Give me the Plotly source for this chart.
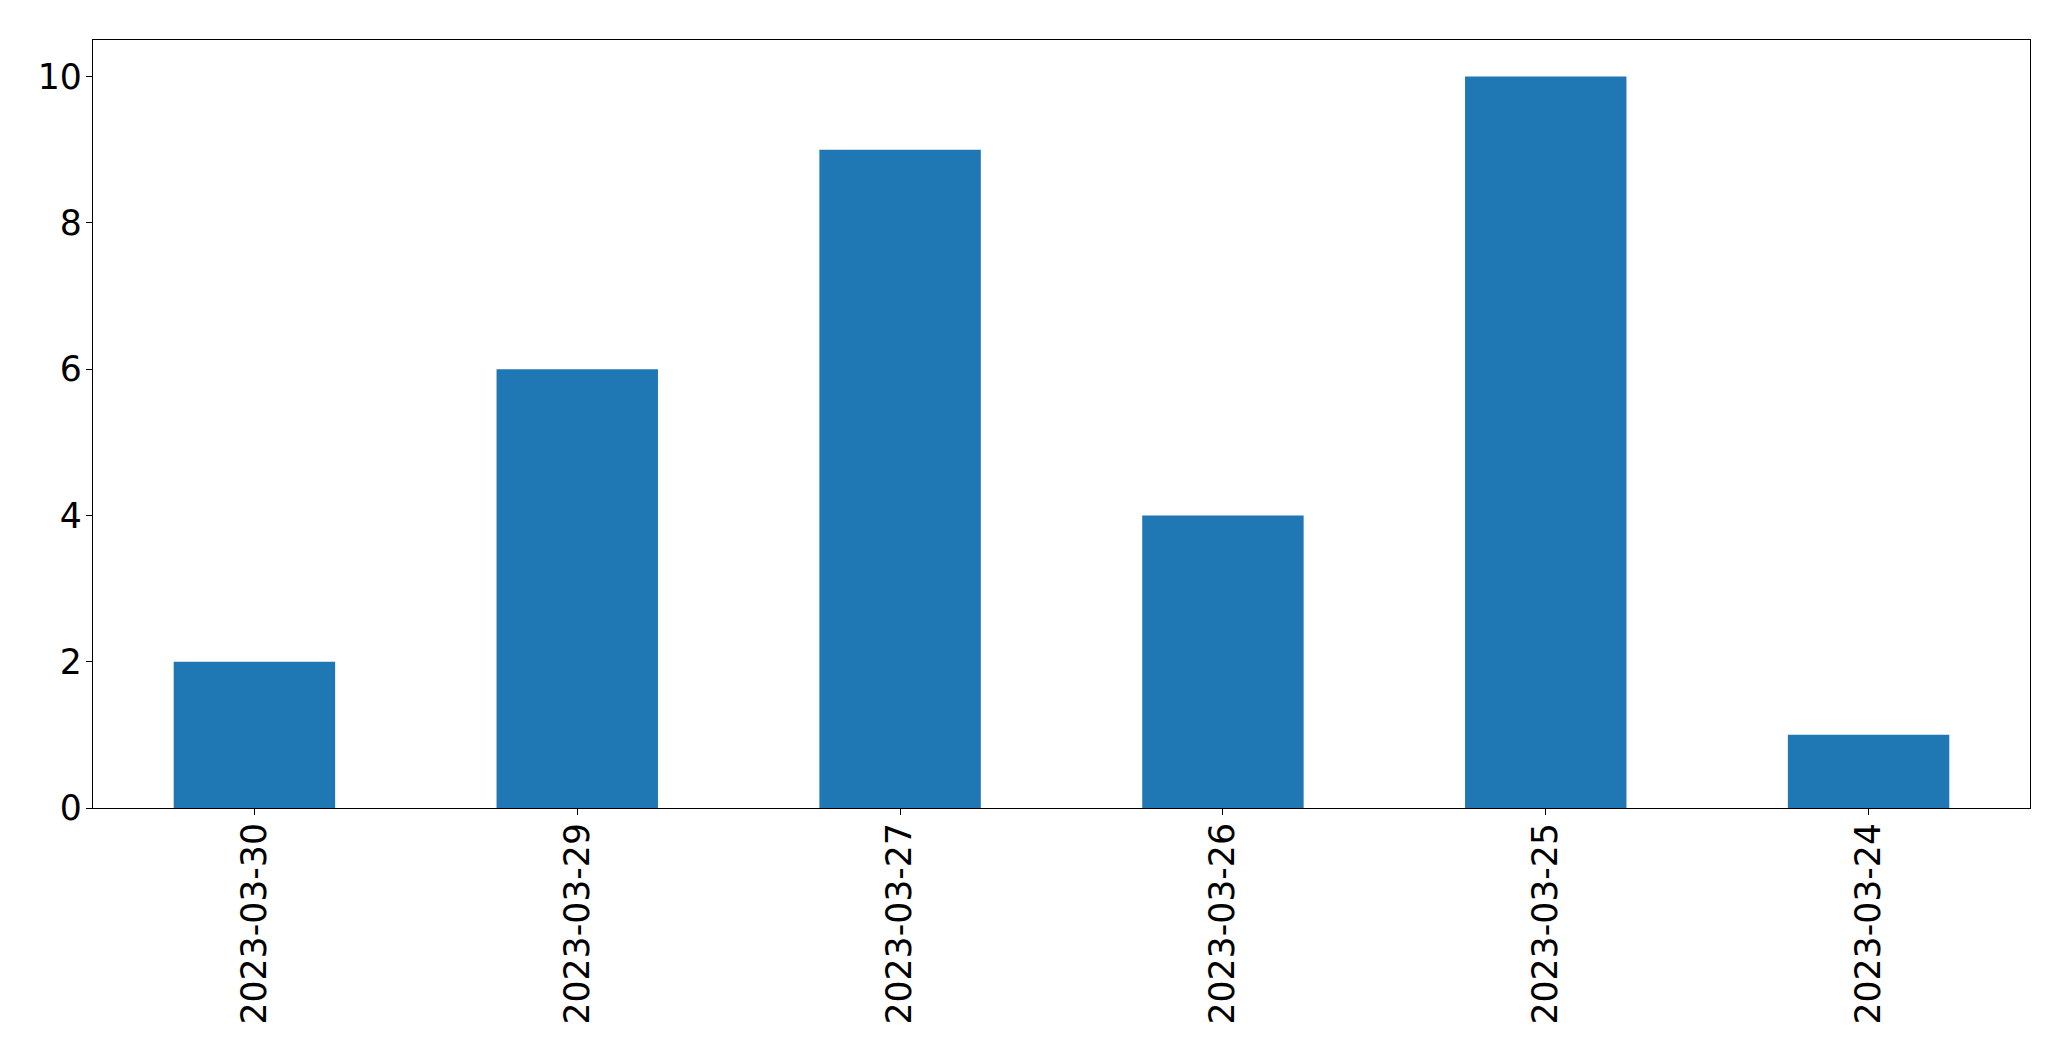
import plotly.graph_objects as go

dates = ["2023-03-30", "2023-03-29", "2023-03-27", "2023-03-26", "2023-03-25", "2023-03-24"]
counts = [2, 6, 9, 4, 10, 1]
y_ticks = [0, 2, 4, 6, 8, 10]

fig = go.Figure(go.Bar(x=dates, y=counts, width=0.5, marker=dict(color="#1f77b4", line=dict(width=0))))

fig.update_layout(
    width=2071, height=1061,
    margin=dict(l=85, r=49, t=32, b=261),
    plot_bgcolor="white", paper_bgcolor="white",
    font=dict(family="DejaVu Sans", size=34.7, color="black"),
    showlegend=False,
)
fig.update_xaxes(
    type="category", range=[-0.5, 5.5], tickangle=-90,
    showline=True, linecolor="black", linewidth=1.3, mirror=True,
    ticks="outside", ticklen=6, tickwidth=1.3, tickcolor="black",
    ticklabelstandoff=-6,
    showgrid=False, zeroline=False,
)
fig.update_yaxes(
    range=[0, 10.5], tickvals=y_ticks,
    showline=True, linecolor="black", linewidth=1.3, mirror=True,
    ticks="outside", ticklen=6, tickwidth=1.3, tickcolor="black",
    ticklabelstandoff=-3,
    showgrid=False, zeroline=False,
)
fig.write_html("out.html")
